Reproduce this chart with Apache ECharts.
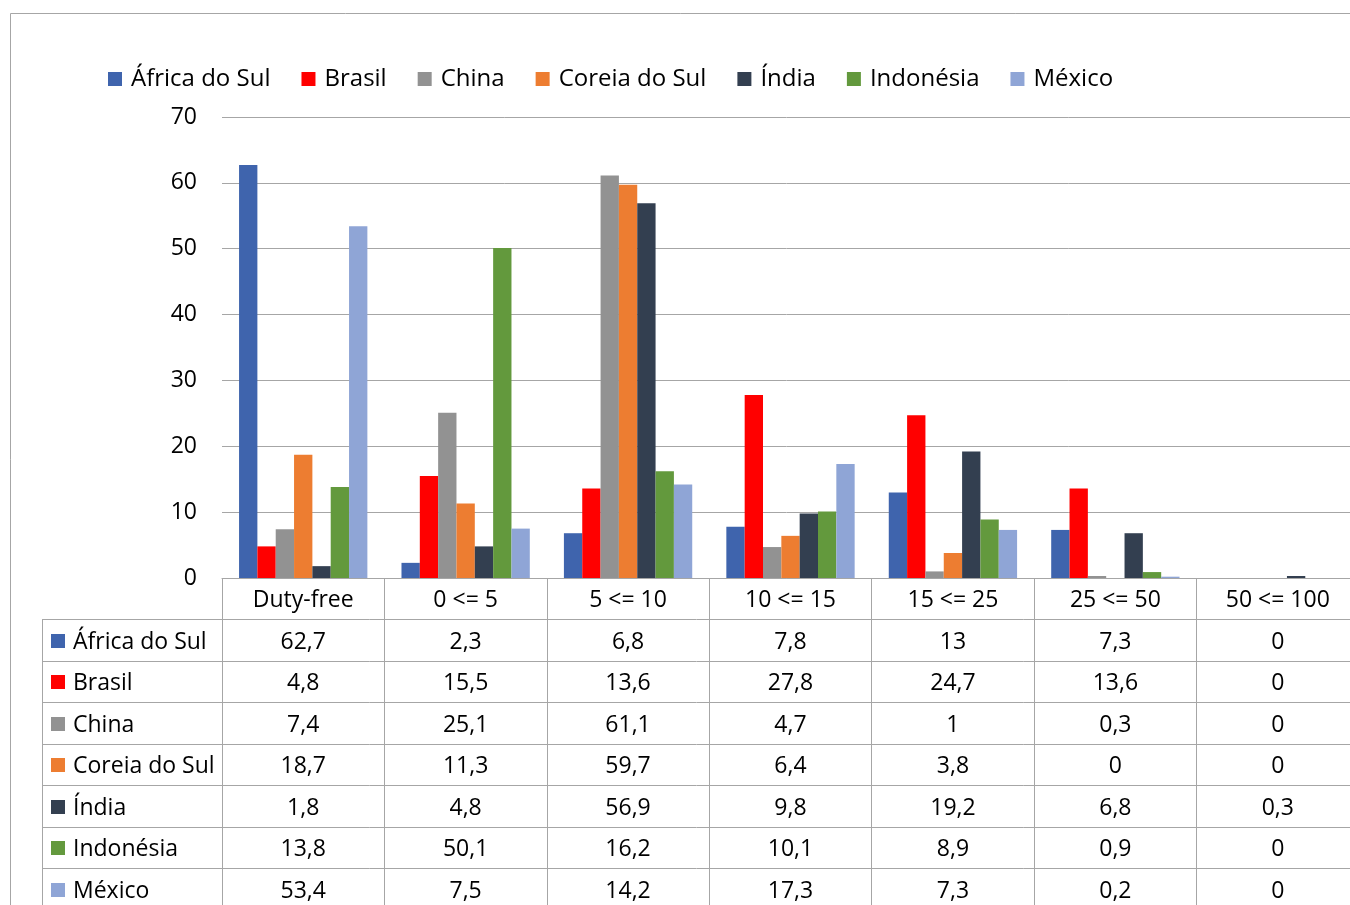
<!DOCTYPE html>
<html>
<head>
<meta charset="utf-8">
<script src="https://cdn.jsdelivr.net/npm/echarts@6/dist/echarts.min.js"></script>
<style>
  html, body { margin: 0; padding: 0; background: #fff; }
  #chart { width: 1350px; height: 905px; }
</style>
</head>
<body>
<div id="chart"></div>
<script>
// Tariff bands (categories) and share of lines per country
const categories = ['Duty-free', '0 <= 5', '5 <= 10', '10 <= 15', '15 <= 25', '25 <= 50', '50 <= 100'];
const countries = ['África do Sul', 'Brasil', 'China', 'Coreia do Sul', 'Índia', 'Indonésia', 'México'];
const colors = ['#3F64AD', '#FF0000', '#929292', '#ED7D31', '#333F50', '#63993D', '#8FA5D6'];

const africaDoSul = [62.7, 2.3, 6.8, 7.8, 13, 7.3, 0];
const brasil      = [4.8, 15.5, 13.6, 27.8, 24.7, 13.6, 0];
const china       = [7.4, 25.1, 61.1, 4.7, 1, 0.3, 0];
const coreiaDoSul = [18.7, 11.3, 59.7, 6.4, 3.8, 0, 0];
const india       = [1.8, 4.8, 56.9, 9.8, 19.2, 6.8, 0.3];
const indonesia   = [13.8, 50.1, 16.2, 10.1, 8.9, 0.9, 0];
const mexico      = [53.4, 7.5, 14.2, 17.3, 7.3, 0.2, 0];

const seriesValues = [africaDoSul, brasil, china, coreiaDoSul, india, indonesia, mexico];
const yTicks = { min: 0, max: 70, interval: 10 };

const FONT = 'Open Sans';
const LINE = '#A6A6A6';

const chart = echarts.init(document.getElementById('chart'), null, { renderer: 'canvas' });

const fmt = v => String(v).replace('.', ',');

const option = {
  animation: false,
  backgroundColor: '#fff',
  textStyle: { fontFamily: FONT, color: '#000' },
  legend: {
    left: 103,
    top: 62,
    icon: 'rect',
    itemWidth: 14,
    itemHeight: 14,
    itemGap: 31,
    textStyle: { fontFamily: FONT, fontSize: 24, color: '#000', padding: [0, 0, 0, 4] },
    data: countries
  },
  grid: { left: 222, top: 117, width: 1137, bottom: 327, containLabel: false, outerBoundsMode: 'none' },
  xAxis: {
    type: 'category',
    data: categories,
    axisLine: { show: true, lineStyle: { color: LINE, width: 1 } },
    axisTick: { show: true, length: 340, alignWithLabel: false, lineStyle: { color: LINE, width: 1 } },
    axisLabel: { margin: 11, fontFamily: FONT, fontSize: 23, color: '#000', interval: 0 },
    splitLine: { show: false }
  },
  yAxis: {
    type: 'value',
    min: yTicks.min,
    max: yTicks.max,
    interval: yTicks.interval,
    axisLine: { show: false },
    axisTick: { show: false },
    axisLabel: { margin: 25, fontFamily: FONT, fontSize: 23, color: '#000', padding: [2, 0, 0, 0] },
    splitLine: { show: true, lineStyle: { color: LINE, width: 1 } }
  },
  series: countries.map((name, i) => ({
    name,
    type: 'bar',
    data: seriesValues[i],
    barGap: '0%',
    barCategoryGap: '21%',
    itemStyle: { color: colors[i] }
  }))
};

chart.setOption(option);

// Data table below the axis: one row per country, columns aligned with the category axis
function buildTable() {
  const xs = categories.map(c => chart.convertToPixel({ xAxisIndex: 0 }, c));
  const step = xs[1] - xs[0];
  const axisY = chart.convertToPixel({ yAxisIndex: 0 }, 0);
  const headerH = 41;
  const rowH = 41.5;
  const tableLeft = 42;
  const tableRight = xs[xs.length - 1] + step / 2;
  const firstRowTop = axisY + headerH;
  const els = [];

  // outer chart-area frame
  els.push({ type: 'line', silent: true, shape: { x1: 10.5, y1: 13.5, x2: 1360, y2: 13.5 }, style: { stroke: LINE, lineWidth: 1 } });
  els.push({ type: 'line', silent: true, shape: { x1: 10.5, y1: 13.5, x2: 10.5, y2: 910 }, style: { stroke: LINE, lineWidth: 1 } });

  // horizontal rules
  for (let r = 0; r <= countries.length; r++) {
    const y = Math.round(firstRowTop + r * rowH) + 0.5;
    els.push({ type: 'line', silent: true, shape: { x1: tableLeft, y1: y, x2: tableRight, y2: y }, style: { stroke: LINE, lineWidth: 1 } });
  }
  // left edge of the row-label column
  els.push({ type: 'line', silent: true, shape: { x1: tableLeft + 0.5, y1: firstRowTop, x2: tableLeft + 0.5, y2: 910 }, style: { stroke: LINE, lineWidth: 1 } });

  countries.forEach((name, r) => {
    const cy = firstRowTop + r * rowH + rowH / 2;
    const ty = cy + 2.5;
    els.push({ type: 'rect', silent: true, shape: { x: 51, y: Math.round(cy - 6), width: 14, height: 14 }, style: { fill: colors[r] } });
    els.push({
      type: 'text', silent: true, x: 73, y: ty,
      style: { text: name, fontFamily: FONT, fontSize: 23, fill: '#000', align: 'left', verticalAlign: 'middle' }
    });
    seriesValues[r].forEach((v, c) => {
      els.push({
        type: 'text', silent: true, x: xs[c], y: ty,
        style: { text: fmt(v), fontFamily: FONT, fontSize: 23, fill: '#000', align: 'center', verticalAlign: 'middle' }
      });
    });
  });

  chart.setOption({ graphic: { elements: els } });
}

buildTable();
</script>
</body>
</html>
